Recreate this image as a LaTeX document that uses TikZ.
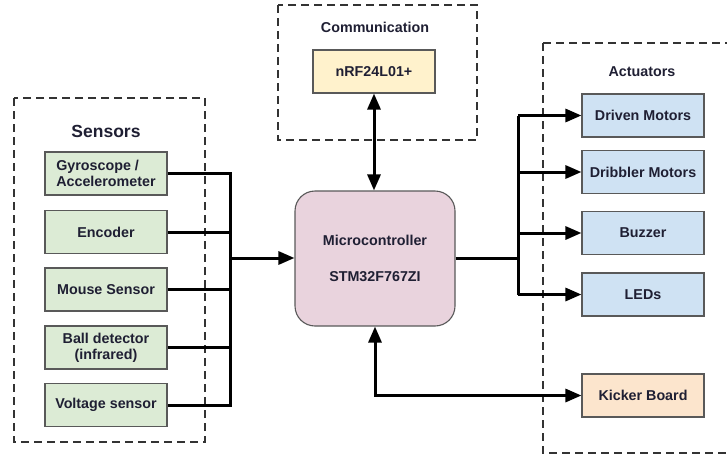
\documentclass[tikz,border=0pt]{standalone}
\usepackage{fontspec}
\setmainfont{Liberation Sans}
\usetikzlibrary{arrows.meta}
\definecolor{sgreen}{HTML}{DCEBD5}
\definecolor{cyellow}{HTML}{FFF2CC}
\definecolor{mpink}{HTML}{E9D3DD}
\definecolor{ablue}{HTML}{CFE2F3}
\definecolor{korange}{HTML}{FCE5CD}
\definecolor{bord}{HTML}{595959}
\definecolor{txt}{HTML}{1F1F33}
\definecolor{dashc}{HTML}{333333}
\tikzset{
  blk/.style={draw=bord, line width=1.1pt, minimum width=122pt, minimum height=43pt, inner sep=2pt,
    text=txt, font=\fontsize{14.3}{16}\selectfont\bfseries, align=center},
  sensorbox/.style={blk, fill=sgreen},
  actbox/.style={blk, fill=ablue},
  grp/.style={draw=dashc, line width=2.3pt, dash pattern=on 8pt off 5pt},
  ttl/.style={text=txt, font=\fontsize{14.3}{16}\selectfont\bfseries},
  wire/.style={line width=3pt, black},
  arr/.style={wire, -{Triangle[length=16pt,width=13pt]}},
  darr/.style={wire, {Triangle[length=16pt,width=13pt]}-{Triangle[length=16pt,width=13pt]}}
}
\begin{document}
\begin{tikzpicture}[x=1pt,y=-1pt]
\useasboundingbox (0,0) rectangle (727,458);
% group frames
\draw[grp] (14,98) rectangle (205,442);
\draw[grp] (278,5) rectangle (477,140);
\draw[grp] (543,43) -- (740,43) (543,43) -- (543,453) -- (740,453);
% titles
\node[ttl, font=\fontsize{17.5}{19}\selectfont\bfseries] (tsens) at (106,131) {Sensors};
\node[ttl] (tcomm) at (375,27) {Communication};
\node[ttl] (tact) at (642,72) {Actuators};
% sensors
\node[sensorbox, align=left] (gyro) at (106,173.5) {Gyroscope /\\Accelerometer};
\node[sensorbox] (enc) at (106,232) {Encoder};
\node[sensorbox] (mouse) at (106,289.5) {Mouse Sensor};
\node[sensorbox] (ball) at (106,347.5) {Ball detector\\(infrared)};
\node[sensorbox] (volt) at (106,405) {Voltage sensor};
% communication
\node[blk, fill=cyellow] (nrf) at (374,71.5) {nRF24L01+};
% microcontroller
\node[draw=bord, line width=1.1pt, fill=mpink, rounded corners=20pt, minimum width=160pt, minimum height=135pt,
  text=txt, font=\fontsize{14.3}{36}\selectfont\bfseries, align=center] (mcu) at (375,258.5)
  {Microcontroller\\STM32F767ZI};
% actuators
\node[actbox] (drv) at (643,115.5) {Driven Motors};
\node[actbox] (drib) at (643,172) {Dribbler Motors};
\node[actbox] (buzz) at (643,233) {Buzzer};
\node[actbox] (led) at (643,294.5) {LEDs};
\node[blk, fill=korange] (kick) at (643,395.5) {Kicker Board};
% bus coordinates
\coordinate (lbus) at (230,258);
\coordinate (rbus) at (518,258);
% sensor wiring
\draw[wire] (gyro.east) -- (gyro.east -| lbus) -- (volt.east -| lbus) -- (volt.east);
\draw[wire] (enc.east) -- (enc.east -| lbus);
\draw[wire] (mouse.east) -- (mouse.east -| lbus);
\draw[wire] (ball.east) -- (ball.east -| lbus);
\draw[arr] (lbus) -- (mcu.west |- lbus);
% actuator wiring
\draw[wire] (mcu.east |- rbus) -- (rbus);
\draw[wire] (drv.west -| rbus) -- (led.west -| rbus);
\draw[arr] (drv.west -| rbus) -- (drv.west);
\draw[arr] (drib.west -| rbus) -- (drib.west);
\draw[arr] (buzz.west -| rbus) -- (buzz.west);
\draw[arr] (led.west -| rbus) -- (led.west);
% communication link
\draw[darr] (nrf.south) -- (nrf.south |- mcu.north);
% kicker link
\draw[darr] (mcu.south) |- (kick.west);
\end{tikzpicture}
\end{document}
